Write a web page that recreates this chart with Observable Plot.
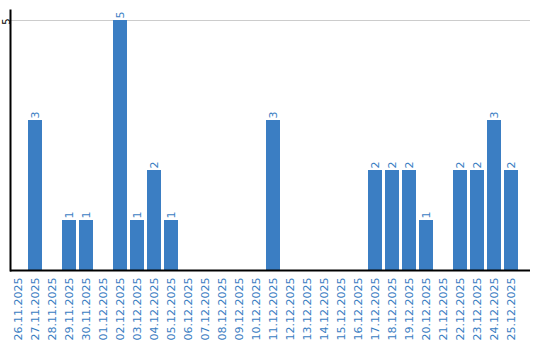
<!DOCTYPE html>
<html><head><meta charset="utf-8">
<script src="https://cdn.jsdelivr.net/npm/d3@7"></script>
<script src="https://cdn.jsdelivr.net/npm/@observablehq/plot@0.6"></script>
<style>body{margin:0;background:#fff}</style>
</head><body><div id="chart"></div>
<script>
const dates = ["26.11.2025","27.11.2025","28.11.2025","29.11.2025","30.11.2025","01.12.2025","02.12.2025","03.12.2025","04.12.2025","05.12.2025","06.12.2025","07.12.2025","08.12.2025","09.12.2025","10.12.2025","11.12.2025","12.12.2025","13.12.2025","14.12.2025","15.12.2025","16.12.2025","17.12.2025","18.12.2025","19.12.2025","20.12.2025","21.12.2025","22.12.2025","23.12.2025","24.12.2025","25.12.2025"];
const counts = [0,3,0,1,1,0,5,1,2,1,0,0,0,0,0,3,0,0,0,0,0,2,2,2,1,0,2,2,3,2];
const yTicks = [5];

const data = dates.map((d, i) => ({date: d, count: counts[i]}));
const blue = "#3b7ec3";

const chart = Plot.plot({
  width: 540, height: 340,
  marginTop: 10, marginLeft: 10, marginRight: 10, marginBottom: 70,
  style: {fontFamily: "DejaVu Sans, sans-serif", fontSize: "11px", background: "#fff"},
  x: {domain: dates, range: [9, 519], paddingInner: 0.18, paddingOuter: 0, label: null},
  y: {domain: [0, 5.2], label: null},
  marks: [
    Plot.gridY(yTicks, {stroke: "#ccc", strokeOpacity: 1}),
    Plot.barY(data.filter(d => d.count > 0), {x: "date", y: "count", fill: blue}),
    Plot.text(data.filter(d => d.count > 0), {x: "date", y: "count", text: d => String(d.count), rotate: -90, textAnchor: "start", dy: -2, fill: blue, fontSize: 11}),
    Plot.axisX({tickSize: 0, tickRotate: -90, tickPadding: 7, fill: "#3a7dc2", fontSize: 11, label: null}),
    Plot.axisY(yTicks, {tickSize: 0, tickRotate: -90, tickPadding: 1, tickFormat: "d", dy: 1, fill: "#000", fontSize: 10, label: null}),
    Plot.frame({anchor: "left", stroke: "#000", strokeWidth: 2}),
    Plot.ruleY([0], {stroke: "#000", strokeWidth: 2})
  ]
});
document.getElementById("chart").appendChild(chart);
</script></body></html>
